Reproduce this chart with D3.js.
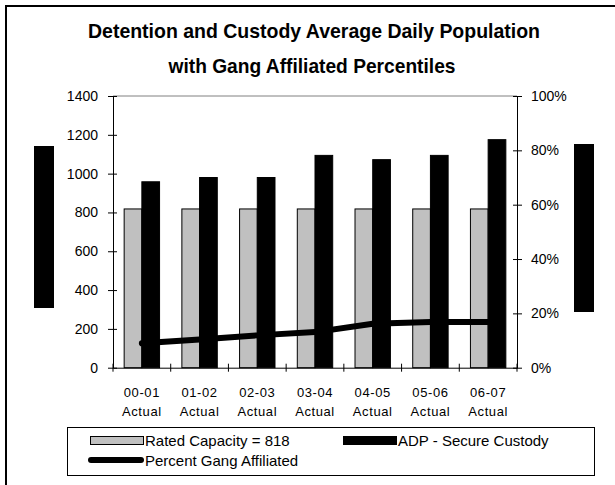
<!DOCTYPE html>
<html>
<head>
<meta charset="utf-8">
<script src="https://cdn.jsdelivr.net/npm/d3@7/dist/d3.min.js"></script>
<style>
  html, body { margin: 0; padding: 0; background: #fff; }
  svg { display: block; font-family: "Liberation Sans", Arial, sans-serif; }
</style>
</head>
<body>
<svg id="chart" width="615" height="485"></svg>
<script>
// Fiscal years on the category axis
const categories = ["00-01", "01-02", "02-03", "03-04", "04-05", "05-06", "06-07"];
const categorySub = "Actual";

// Rated capacity (constant) and average daily population in secure custody
const ratedCapacity = [818, 818, 818, 818, 818, 818, 818];
const adpSecure = [958, 980, 980, 1094, 1072, 1094, 1175];

// Share of the population that is gang affiliated (percent)
const pctGang = [9.0, 10.4, 11.9, 13.1, 16.2, 16.8, 16.8];

// Axis ticks
const leftTicks = [0, 200, 400, 600, 800, 1000, 1200, 1400];
const rightTicks = [0, 20, 40, 60, 80, 100];

const titleLines = ["Detention and Custody Average Daily Population", "with Gang Affiliated Percentiles"];
const legendLabels = ["Rated Capacity = 818", "ADP - Secure Custody", "Percent Gang Affiliated"];

const svg = d3.select("#chart");
const W = 615, H = 485;
const plot = { left: 113, right: 517, top: 96, bottom: 367.7 };

// outer chart border (runs off the right and bottom edges)
svg.append("rect")
  .attr("x", 6).attr("y", 6).attr("width", W + 20).attr("height", H + 20)
  .attr("fill", "none").attr("stroke", "#000").attr("stroke-width", 2);

// title, set in a condensed bold face
const titleCfg = [{ x: 314, y: 38, len: 452 }, { x: 312, y: 73, len: 287 }];
titleLines.forEach((t, i) => {
  svg.append("text")
    .attr("x", titleCfg[i].x).attr("y", titleCfg[i].y)
    .attr("text-anchor", "middle")
    .attr("font-size", 21).attr("font-weight", "bold")
    .attr("textLength", titleCfg[i].len)
    .attr("lengthAdjust", "spacingAndGlyphs")
    .text(t);
});

// scales
const x = d3.scaleBand().domain(categories).range([plot.left, plot.right]).padding(0);
const xSub = d3.scaleBand().domain(["cap", "adp"]).range([0, x.bandwidth()])
  .paddingInner(0).paddingOuter(0.63);
const yL = d3.scaleLinear().domain([0, 1400]).range([plot.bottom, plot.top]);
const yR = d3.scaleLinear().domain([0, 100]).range([plot.bottom, plot.top]);

// plot frame (top edge in grey)
svg.append("line")
  .attr("x1", plot.left).attr("x2", plot.right)
  .attr("y1", plot.top).attr("y2", plot.top)
  .attr("stroke", "#808080").attr("stroke-width", 1);

// bars
const gBars = svg.append("g");
gBars.selectAll("rect.cap").data(categories).join("rect")
  .attr("class", "cap")
  .attr("x", d => x(d) + xSub("cap"))
  .attr("width", xSub.bandwidth())
  .attr("y", (d, i) => yL(ratedCapacity[i]))
  .attr("height", (d, i) => yL(0) - yL(ratedCapacity[i]))
  .attr("fill", "#c0c0c0").attr("stroke", "#000").attr("stroke-width", 1);

gBars.selectAll("rect.adp").data(categories).join("rect")
  .attr("class", "adp")
  .attr("x", d => x(d) + xSub("adp"))
  .attr("width", xSub.bandwidth())
  .attr("y", (d, i) => yL(adpSecure[i]))
  .attr("height", (d, i) => yL(0) - yL(adpSecure[i]))
  .attr("fill", "#000").attr("stroke", "#000").attr("stroke-width", 1);

// gang-affiliated percentage line
const line = d3.line()
  .x((d, i) => x(categories[i]) + x.bandwidth() / 2)
  .y(d => yR(d));
svg.append("path")
  .datum(pctGang)
  .attr("d", line)
  .attr("fill", "none").attr("stroke", "#000").attr("stroke-width", 6)
  .attr("stroke-linecap", "round").attr("stroke-linejoin", "round");

// left axis
const axL = svg.append("g").attr("transform", `translate(${plot.left},0)`)
  .call(d3.axisLeft(yL).tickValues(leftTicks).tickSize(0).tickPadding(0).tickFormat(d3.format("d")));
axL.select(".domain").attr("stroke", "#000");
axL.selectAll(".tick line").attr("x1", -5).attr("x2", 4).attr("stroke", "#000");
axL.selectAll(".tick text").attr("x", -15).attr("font-size", 14)
  .attr("font-family", "Liberation Sans, Arial, sans-serif").attr("fill", "#000");

// right axis
const axR = svg.append("g").attr("transform", `translate(${plot.right},0)`)
  .call(d3.axisRight(yR).tickValues(rightTicks).tickSize(0).tickPadding(0).tickFormat(d => d + "%"));
axR.select(".domain").attr("stroke", "#000");
axR.selectAll(".tick line").attr("x1", -4).attr("x2", 5).attr("stroke", "#000");
axR.selectAll(".tick text").attr("x", 14).attr("font-size", 14)
  .attr("font-family", "Liberation Sans, Arial, sans-serif").attr("fill", "#000");

// category axis
const axB = svg.append("g").attr("transform", `translate(0,${plot.bottom})`)
  .call(d3.axisBottom(x).tickSize(0).tickFormat(""));
axB.select(".domain").attr("stroke", "#000");
axB.selectAll(".tick").remove();
const bounds = categories.map(c => x(c)).concat([plot.right]);
axB.selectAll("line.ctick").data(bounds).join("line")
  .attr("class", "ctick")
  .attr("x1", d => d).attr("x2", d => d)
  .attr("y1", -4).attr("y2", 4)
  .attr("stroke", "#000");
const catLabels = svg.append("g").attr("font-size", 13).attr("letter-spacing", 0.6).attr("text-anchor", "middle");
categories.forEach(c => {
  const cx = x(c) + x.bandwidth() / 2;
  catLabels.append("text").attr("x", cx).attr("y", 397).text(c);
  catLabels.append("text").attr("x", cx).attr("y", 416).text(categorySub);
});

// redacted axis title blocks
svg.append("rect").attr("x", 34).attr("y", 146).attr("width", 20).attr("height", 162).attr("fill", "#000");
svg.append("rect").attr("x", 574).attr("y", 144).attr("width", 20).attr("height", 168).attr("fill", "#000");

// legend
const lg = svg.append("g");
lg.append("rect").attr("x", 67.5).attr("y", 427.5).attr("width", 527).attr("height", 48)
  .attr("fill", "#fff").attr("stroke", "#000").attr("stroke-width", 1);
lg.append("rect").attr("x", 90.5).attr("y", 436.5).attr("width", 53).attr("height", 8)
  .attr("fill", "#c0c0c0").attr("stroke", "#000").attr("stroke-width", 1);
lg.append("rect").attr("x", 343).attr("y", 436).attr("width", 54).attr("height", 9)
  .attr("fill", "#000");
lg.append("line").attr("x1", 91).attr("x2", 141).attr("y1", 460).attr("y2", 460)
  .attr("stroke", "#000").attr("stroke-width", 6).attr("stroke-linecap", "round");
const legPos = [[145, 446], [398, 446], [145, 466]];
legendLabels.forEach((t, i) => {
  lg.append("text").attr("x", legPos[i][0]).attr("y", legPos[i][1])
    .attr("font-size", 15).text(t);
});
</script>
</body>
</html>
